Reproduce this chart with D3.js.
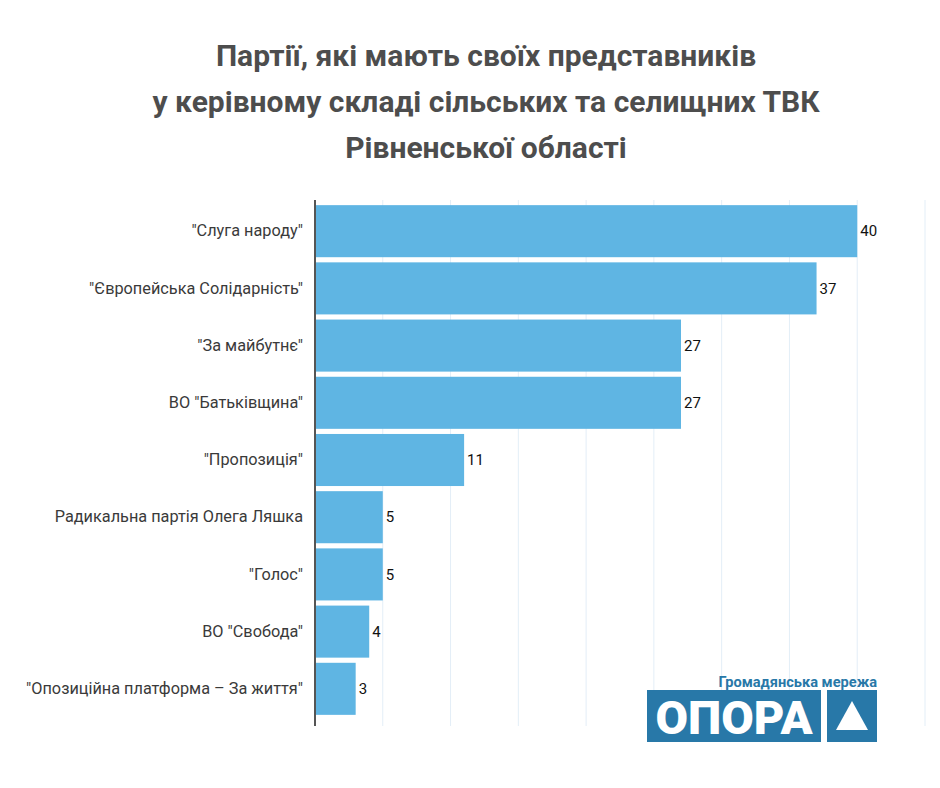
<!DOCTYPE html>
<html>
<head>
<meta charset="utf-8">
<script src="https://cdn.jsdelivr.net/npm/d3@7"></script>
<style>
  body { margin: 0; background: #fff; }
  svg { display: block; font-family: Roboto, "Noto Sans", sans-serif; }
</style>
</head>
<body>
<div id="chart"></div>
<script>
var width = 940;
var height = 788;

var titleLines = [
    "Партії, які мають своїх представників",
    "у керівному складі сільських та селищних ТВК",
    "Рівненської області"
];
var parties = [
    "\"Слуга народу\"",
    "\"Європейська Солідарність\"",
    "\"За майбутнє\"",
    "ВО \"Батьківщина\"",
    "\"Пропозиція\"",
    "Радикальна партія Олега Ляшка",
    "\"Голос\"",
    "ВО \"Свобода\"",
    "\"Опозиційна платформа – За життя\""
];
var counts = [40, 37, 27, 27, 11, 5, 5, 4, 3];
var gridTicks = [5, 10, 15, 20, 25, 30, 35, 40, 45];

var barColor = "#5fb5e3";
var logoColor = "#2878a8";

var plotTop = 200;
var plotBottom = 726;
var left = 315;
var right = 925;

var svg = d3.select("#chart")
    .append("svg")
        .attr("width", width)
        .attr("height", height);

// title
svg.append("g")
    .selectAll("text")
    .data(titleLines)
    .enter()
    .append("text")
        .attr("x", 486)
        .attr("y", function(d, i) { return 66 + i * 46 })
        .attr("text-anchor", "middle")
        .style("font-size", "30px")
        .style("font-weight", "bold")
        .style("fill", "#4d4d4d")
        .text(function(d) { return d });

var x = d3.scaleLinear()
    .domain([0, 45])
    .range([left, right]);

var y = d3.scaleBand()
    .domain(parties)
    .range([plotTop, 720])
    .paddingInner(0.09)
    .paddingOuter(0.09);

// grid
svg.append("g")
    .attr("class", "grid")
    .selectAll("line")
    .data(gridTicks)
    .enter()
    .append("line")
        .attr("x1", function(d) { return x(d) })
        .attr("x2", function(d) { return x(d) })
        .attr("y1", plotTop)
        .attr("y2", plotBottom)
        .attr("stroke", "#e3eef7")
        .attr("stroke-width", 1);

// bars
svg.append("g")
    .attr("class", "bars")
    .selectAll("rect")
    .data(counts)
    .enter()
    .append("rect")
        .attr("x", x(0))
        .attr("y", function(d, i) { return y(parties[i]) })
        .attr("width", function(d) { return x(d) - x(0) })
        .attr("height", y.bandwidth())
        .attr("fill", barColor);

// value labels
svg.append("g")
    .selectAll("text")
    .data(counts)
    .enter()
    .append("text")
        .attr("x", function(d) { return x(d) + 3 })
        .attr("y", function(d, i) { return y(parties[i]) + y.bandwidth() / 2 })
        .attr("dy", "0.35em")
        .style("font-size", "15px")
        .style("fill", "#111")
        .text(function(d) { return d });

// category axis
var yAxis = svg.append("g")
    .attr("transform", "translate(" + left + ",0)")
    .call(d3.axisLeft(y).tickSize(0).tickPadding(12));
yAxis.select(".domain")
    .attr("stroke", "#555")
    .attr("stroke-width", 2)
    .attr("d", "M0," + plotTop + "V" + plotBottom);
yAxis.selectAll("text")
    .style("font-family", "Roboto, sans-serif")
    .style("font-size", "16.3px")
    .style("fill", "#3a3a3a");

// logo
var logo = svg.append("g").attr("class", "logo");
logo.append("text")
    .attr("x", 877)
    .attr("y", 687)
    .attr("text-anchor", "end")
    .style("font-size", "14.6px")
    .style("font-weight", "bold")
    .style("fill", logoColor)
    .text("Громадянська мережа");
logo.append("rect")
    .attr("x", 647).attr("y", 690)
    .attr("width", 174).attr("height", 52)
    .attr("fill", logoColor);
logo.append("text")
    .attr("x", 734)
    .attr("y", 733.5)
    .attr("text-anchor", "middle")
    .attr("textLength", 157)
    .attr("lengthAdjust", "spacingAndGlyphs")
    .style("font-size", "47px")
    .style("font-weight", "900")
    .style("fill", "#fff")
    .text("ОПОРА");
logo.append("rect")
    .attr("x", 827).attr("y", 690)
    .attr("width", 50).attr("height", 52)
    .attr("fill", logoColor);
logo.append("path")
    .attr("d", "M852,701L868,730L836,730Z")
    .attr("fill", "#fff");
</script>
</body>
</html>
